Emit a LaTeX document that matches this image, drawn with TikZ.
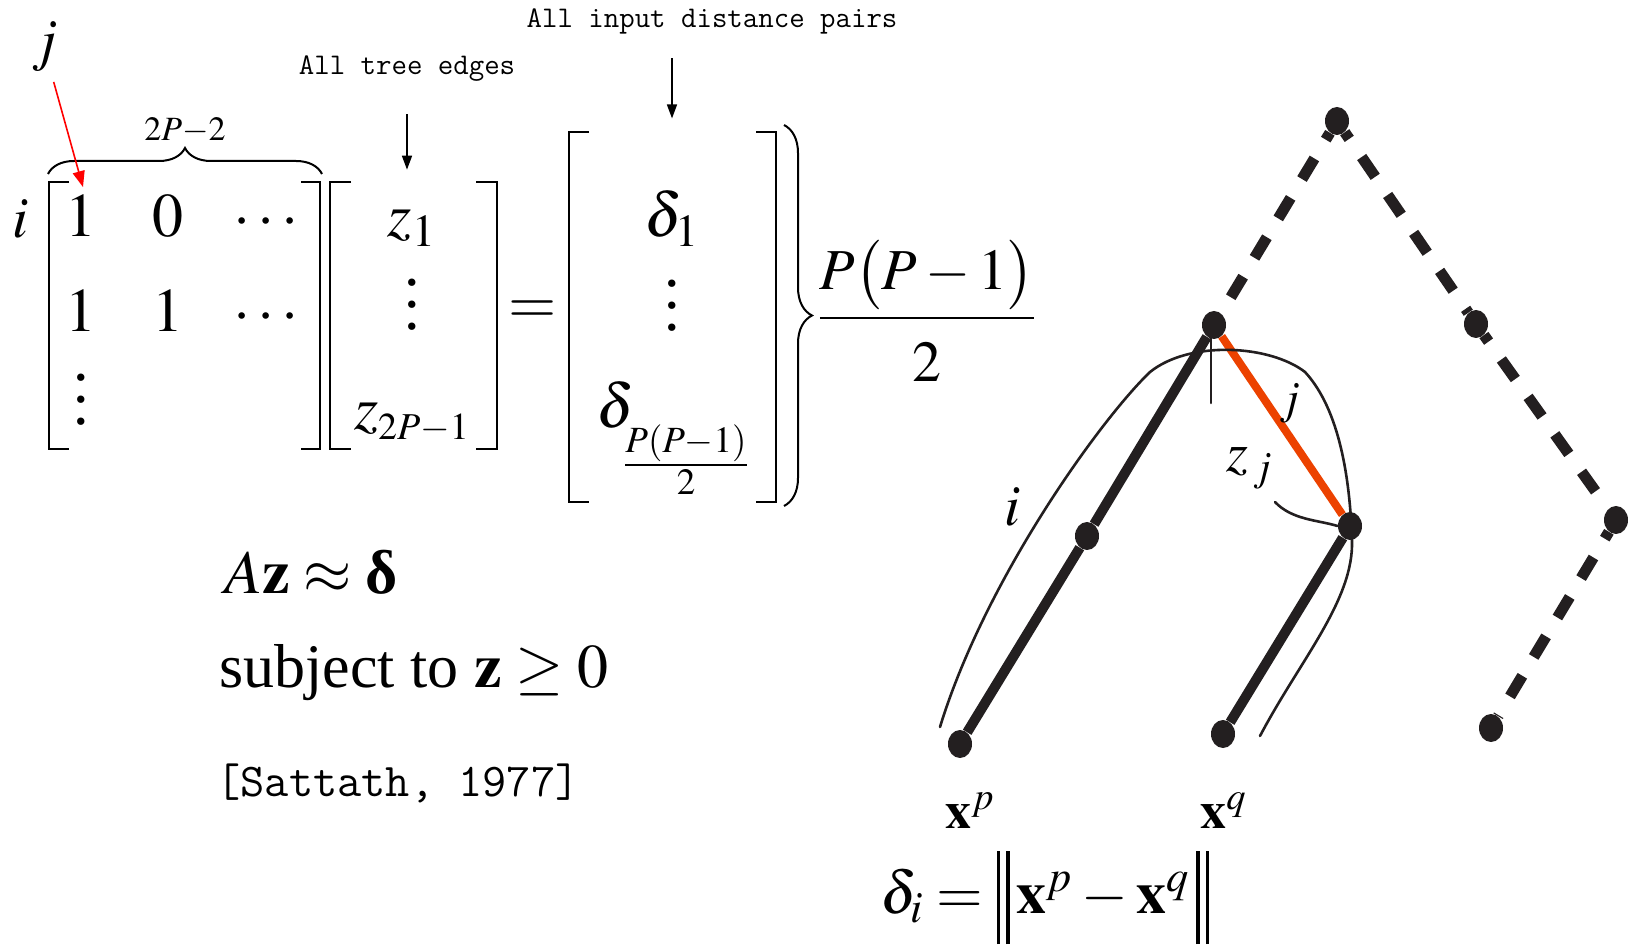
\documentclass[tikz,border=0pt]{standalone}
\usepackage{amsmath}
\usepackage{mathptmx}
\usepackage{fontspec}
\setmainfont{Liberation Serif}
\usepackage{tikz}
\usetikzlibrary{arrows.meta,positioning,calc,shapes.geometric,decorations.pathreplacing}
\newcommand{\fsz}[1]{\fontsize{#1}{#1}\selectfont}
\newcommand{\tallvdots}{\vbox{\baselineskip=11pt\lineskiplimit=0pt\hbox{.}\hbox{.}\hbox{.}}}
\newcommand{\normbar}{\rule[-0.52em]{0.06em}{1.55em}\hspace{0.1em}\rule[-0.52em]{0.06em}{1.55em}}
\definecolor{treeblack}{RGB}{35,31,32}
\definecolor{edgered}{RGB}{236,66,0}
\definecolor{pointerred}{RGB}{255,0,0}
\tikzset{
  entry/.style={inner sep=0pt,font=\fsz{31}},
  ttlabel/.style={inner sep=0pt,font=\fsz{15}\ttfamily},
  brk/.style={line width=1.3pt,draw=black},
  curly/.style={decorate,decoration={brace,amplitude=#1},line width=1pt},
  pointer/.style={-{Triangle[length=8pt,width=6pt]},line width=0.8pt,draw=pointerred},
  downarrow/.style={-{Triangle[length=7pt,width=5pt]},line width=0.8pt,draw=black},
  vertex/.style={ellipse,fill=treeblack,inner sep=0pt,minimum width=12pt,minimum height=14pt},
  solidedge/.style={line width=5pt,draw=treeblack},
  dashedge/.style={line width=5.5pt,draw=treeblack,dash pattern=on 12pt off 11pt,dash phase=8pt},
  jedge/.style={line width=4pt,draw=edgered},
  pathline/.style={line width=1.3pt,draw=treeblack,line cap=round}
}

\begin{document}
\begin{tikzpicture}[x=0.5pt,y=-0.5pt]
  \useasboundingbox (0,0) rectangle (1629,946);
  % linear system
  \node[entry,font=\fsz{29}] (jlbl) at (45,47) {$j$};
  \node[entry,font=\fsz{29}] (ilbl) at (21,219) {$i$};
  \node[entry,font=\fsz{17}] (ncols) at (185,131) {$2P{-}2$};
  \node[entry,anchor=base] (a11) at (81,237) {$1$};
  \node[entry,anchor=base] (a12) at (168,237) {$0$};
  \node[entry,anchor=base] (a13) at (270,237) {$\cdots$};
  \node[entry,anchor=base] (a21) at (81,332) {$1$};
  \node[entry,anchor=base] (a22) at (168,332) {$1$};
  \node[entry,anchor=base] (a23) at (270,332) {$\cdots$};
  \node[entry] (a31) at (81,400) {\tallvdots};
  \node[entry,anchor=base] (z1) at (412,237) {$z_{1}$};
  \node[entry] (zdots) at (412,305) {\tallvdots};
  \node[entry,anchor=base] (zlast) at (412,430) {$z_{\mbox{\fsz{19}$2P{-}1$}}$};
  \node[entry] (eq) at (533,312) {$=$};
  \node[entry,anchor=base] (d1) at (672,237) {$\delta_{1}$};
  \node[entry] (ddots) at (672,306) {\tallvdots};
  \node[entry,anchor=base west] (dlast) at (596,428) {$\delta$};
  \node[entry,font=\fsz{25}] (dlastsub) at (686,460) {$\frac{P(P-1)}{2}$};
  \node[entry,font=\fsz{29}] (npairs) at (927,311) {$\displaystyle\frac{P\bigl(P-1\bigr)}{\rule{0pt}{0.95em}2}$};
  \draw[brk] (69,182) -| (49,449) -- (69,449);
  \draw[brk] (301,182) -| (320,449) -- (301,449);
  \draw[brk] (351,182) -| (330,449) -- (351,449);
  \draw[brk] (476,182) -| (497,449) -- (476,449);
  \draw[brk] (589,132) -| (569,502) -- (589,502);
  \draw[brk] (756,132) -| (776,502) -- (756,502);
  \draw[curly=13pt] (48,174) -- (322,174);
  \draw[curly=14pt] (784,125) -- (784,506);
  \node[ttlabel] (treelbl) at (407,69) {All tree edges};
  \node[ttlabel] (distlbl) at (712,21) {All input distance pairs};
  \draw[pointer,shorten <=5pt] ([xshift=3pt]jlbl.south) -- ([xshift=1pt,yshift=4pt]a11.north);
  \draw[downarrow,shorten <=16pt,shorten >=20pt] (treelbl.south) -- (treelbl.south |- z1.north);
  \draw[downarrow,shorten <=12pt,shorten >=36pt] (d1.north |- distlbl.south) -- (d1.north);
  \node[entry,anchor=base west] (obj) at (224,594) {$A\mathbf{z}\approx\mbox{\bfseries δ}$};
  \node[entry,anchor=base west] (subj) at (219,688) {subject to $\mathbf{z}\geq 0$};
  \node[inner sep=0pt,font=\fsz{23.5}\ttfamily,anchor=base west] (cite) at (216,796) {[Sattath, 1977]};
  % tree
  \node[vertex] (root) at (1337,121) {};
  \node[vertex] (u) at (1214,325) {};
  \node[vertex] (r1) at (1476,324) {};
  \node[vertex] (r2) at (1616,520) {};
  \node[vertex] (r3) at (1491,728) {};
  \node[vertex] (b) at (1087,536) {};
  \node[vertex] (w) at (1350,526) {};
  \node[vertex] (leafp) at (960,744) {};
  \node[vertex] (leafq) at (1223,734) {};
  \draw[dashedge] (root) -- (u);
  \draw[dashedge] (root) -- (r1) -- (r2) -- (r3);
  \draw[solidedge] (u) -- (b) -- (leafp);
  \draw[solidedge] (w) -- (leafq);
  \draw[jedge] (u) -- (w);
  \draw[pathline] (940,727) .. controls (985,580) and (1100,420) .. (1150,372)
    .. controls (1190,340) and (1270,345) .. (1305,372)
    .. controls (1340,410) and (1350,480) .. (1352,540)
    .. controls (1354,600) and (1300,660) .. (1260,736);
  \draw[pathline] (1211,335) -- (1211,403);
  \draw[pathline] (1275,502) .. controls (1292,520) and (1318,520) .. (w.west);
  \node[entry,font=\fsz{29}] (ilab) at (1013,507) {$i$};
  \node[entry,font=\fsz{23}] (jlab) at (1290,403) {$j$};
  \node[entry,font=\fsz{28}] (zjlab) at (1250,468) {$z_{\,j}$};
  \node[entry,font=\fsz{26},anchor=base west] (xp) at (945,828) {$\mathbf{x}^{p}$};
  \node[entry,font=\fsz{26},anchor=base west] (xq) at (1200,828) {$\mathbf{x}^{q}$};
  \node[entry,font=\fsz{30},anchor=base west] (dist) at (880,913) {$\delta_{i}=\normbar\,\mathbf{x}^{p}-\mathbf{x}^{q}\,\normbar$};
\end{tikzpicture}
\end{document}
